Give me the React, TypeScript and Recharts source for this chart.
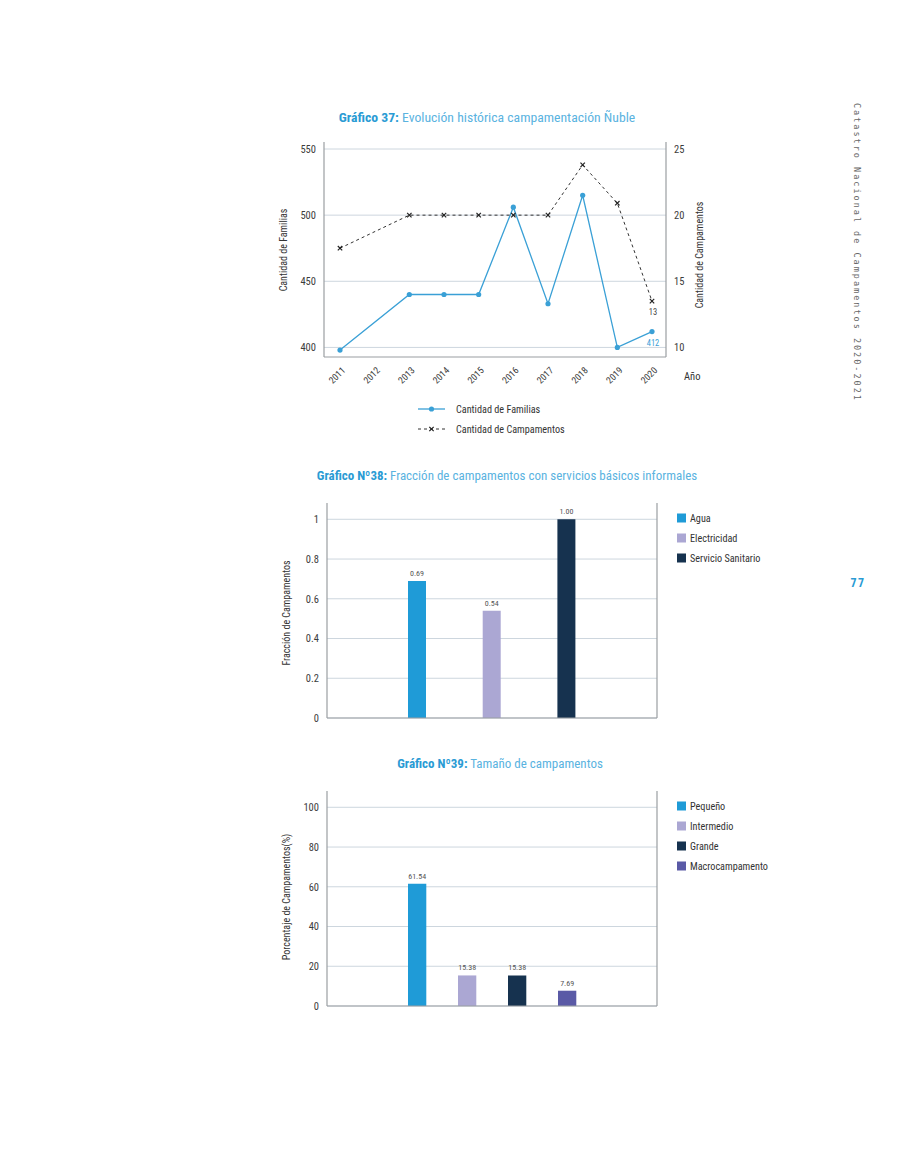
import React from 'react';
import {
  LineChart, Line, BarChart, Bar, XAxis, YAxis, CartesianGrid, LabelList,
} from 'recharts';

// ---------- data ----------
const YEARS = ['2011', '2012', '2013', '2014', '2015', '2016', '2017', '2018', '2019', '2020'];
const FAMILIAS: (number | null)[] = [398, null, 440, 440, 440, 506, 433, 515, 400, 412];
const CAMPAMENTOS: (number | null)[] = [17.5, null, 20, 20, 20, 20, 20, 23.8, 20.9, 13.5];
const FAM_TICKS = [400, 450, 500, 550];
const CAMP_TICKS = [10, 15, 20, 25];

const SERVICIOS = ['Agua', 'Electricidad', 'Servicio Sanitario'];
const FRACCION = [0.69, 0.54, 1.0];
const FRAC_TICKS = [0, 0.2, 0.4, 0.6, 0.8, 1];

const TAMANOS = ['Pequeño', 'Intermedio', 'Grande', 'Macrocampamento'];
const PORCENTAJE = [61.54, 15.38, 15.38, 7.69];
const PCT_TICKS = [0, 20, 40, 60, 80, 100];

const BAR_COLORS = ['#1f9bd7', '#aba7d3', '#16324f', '#5a5aa6'];

// ---------- styles ----------
const FONT = "'Liberation Sans Narrow', 'Roboto Condensed', Roboto, 'Noto Sans', sans-serif";
const BLUE = '#2a9bd4';
const LIGHT_BLUE = '#5ab3df';
const LINE_BLUE = '#3aa0d6';
const GRID = '#cdd6de';
const AXIS = '#9a9ea2';
const TICK = '#3c3c3c';

const lineData = YEARS.map((y, i) => ({ year: y, fam: FAMILIAS[i], camp: CAMPAMENTOS[i] }));

const servData = [SERVICIOS.reduce((o: any, _s, i) => { o['s' + i] = FRACCION[i]; return o; }, { cat: '' })];
const tamData = [TAMANOS.reduce((o: any, _s, i) => { o['t' + i] = PORCENTAJE[i]; return o; }, { cat: '' })];

const Title = ({ bold, rest, cx, cy, size = 13 }: { bold: string; rest: string; cx: number; cy: number; size?: number }) => (
  <div style={{
    position: 'absolute', left: cx, top: cy, transform: 'translate(-50%, -50%)',
    whiteSpace: 'nowrap', fontFamily: FONT, fontSize: size,
  }}>
    <span style={{ color: BLUE, fontWeight: 700 }}>{bold}</span>
    <span style={{ color: LIGHT_BLUE }}> {rest}</span>
  </div>
);

const VLabel = ({ text, cx, cy }: { text: string; cx: number; cy: number }) => (
  <div style={{
    position: 'absolute', left: cx, top: cy, transform: 'translate(-50%, -50%) rotate(-90deg)',
    whiteSpace: 'nowrap', fontFamily: FONT, fontSize: 10, color: '#333',
  }}>{text}</div>
);

const SquareLegend = ({ items, colors, x, ys }: { items: string[]; colors: string[]; x: number; ys: number[] }) => (
  <>
    {items.map((t, i) => (
      <div key={t} style={{
        position: 'absolute', left: x, top: ys[i], transform: 'translateY(-50%)',
        display: 'flex', alignItems: 'center', fontFamily: FONT, fontSize: 10.2, color: '#333', whiteSpace: 'nowrap',
      }}>
        <span style={{ display: 'inline-block', width: 9, height: 9, background: colors[i], marginRight: 4 }} />
        {t}
      </div>
    ))}
  </>
);

const YearTick = (props: any) => {
  const { x, y, payload } = props;
  return (
    <g transform={`translate(${x + 6},${y + 12}) rotate(-45)`}>
      <text x={0} y={0} textAnchor="end" fontSize={9.5} fill={TICK} fontFamily={FONT}>{payload.value}</text>
    </g>
  );
};

const CrossDot = (props: any) => {
  const { cx, cy, index } = props;
  if (cx == null || cy == null) return <g key={'c' + index} />;
  const s = 2.2;
  return (
    <g key={'c' + index} stroke="#222" strokeWidth={1.2}>
      <line x1={cx - s} y1={cy - s} x2={cx + s} y2={cy + s} />
      <line x1={cx - s} y1={cy + s} x2={cx + s} y2={cy - s} />
    </g>
  );
};

const lastLabel = (color: string) => (props: any) => {
  const { x, y, value, index } = props;
  if (index !== YEARS.length - 1 || value == null) return null;
  return (
    <text x={x + 1} y={y + 14} textAnchor="middle" fontSize={8.5} fill={color} fontFamily={FONT}>
      {Math.trunc(value)}
    </text>
  );
};

const tickStyle = { fontSize: 10.5, fill: TICK, fontFamily: FONT };

export default function App() {
  return (
    <div style={{ position: 'absolute', left: 0, top: 0, width: 900, height: 1165, background: '#fff', overflow: 'hidden' }}>
      {/* ---------- Chart 37 ---------- */}
      <Title bold="Gráfico 37:" rest="Evolución histórica campamentación Ñuble" cx={487} cy={117} size={13.7} />
      <div style={{ position: 'absolute', left: 270, top: 130 }}>
        <LineChart width={460} height={280} data={lineData} margin={{ top: 12, right: 24, left: 14, bottom: 13 }}>
          <CartesianGrid vertical={false} stroke={GRID} yAxisId="l" syncWithTicks />
          <XAxis dataKey="year" height={40} tickLine={false} tickSize={0} axisLine={{ stroke: AXIS, strokeWidth: 1.2 }}
            tick={<YearTick />} interval={0} padding={{ left: 16, right: 14 }} />
          <YAxis yAxisId="l" width={40} type="number" domain={[392.75, 555.3]} ticks={FAM_TICKS} allowDataOverflow
            tickLine={false} axisLine={{ stroke: AXIS, strokeWidth: 1.2 }} tick={tickStyle} />
          <YAxis yAxisId="r" orientation="right" width={40} type="number" domain={[9.275, 25.53]} ticks={CAMP_TICKS} allowDataOverflow
            tickLine={false} axisLine={{ stroke: AXIS, strokeWidth: 1.2 }} tick={tickStyle} />
          <Line yAxisId="l" dataKey="fam" stroke={LINE_BLUE} strokeWidth={1.3} connectNulls isAnimationActive={false}
            dot={{ r: 2.6, fill: LINE_BLUE, stroke: LINE_BLUE, strokeWidth: 0 }} activeDot={false}>
            <LabelList dataKey="fam" content={lastLabel(LINE_BLUE)} />
          </Line>
          <Line yAxisId="r" dataKey="camp" stroke="#333" strokeWidth={1} strokeDasharray="3 3" connectNulls isAnimationActive={false}
            dot={<CrossDot />} activeDot={false}>
            <LabelList dataKey="camp" content={lastLabel('#444')} />
          </Line>
        </LineChart>
      </div>
      <VLabel text="Cantidad de Familias" cx={283} cy={250} />
      <VLabel text="Cantidad de Campamentos" cx={699} cy={255} />
      <div style={{ position: 'absolute', left: 684, top: 370, fontFamily: FONT, fontSize: 10.5, color: '#333' }}>Año</div>
      {/* legend */}
      <svg style={{ position: 'absolute', left: 410, top: 400 }} width={50} height={40}>
        <line x1={8} y1={9} x2={35} y2={9} stroke={LINE_BLUE} strokeWidth={1.3} />
        <circle cx={21.5} cy={9} r={2.6} fill={LINE_BLUE} />
        <line x1={8} y1={29} x2={35} y2={29} stroke="#333" strokeWidth={1} strokeDasharray="3 3" />
        <g stroke="#222" strokeWidth={1.2}>
          <line x1={19.3} y1={26.8} x2={23.7} y2={31.2} />
          <line x1={19.3} y1={31.2} x2={23.7} y2={26.8} />
        </g>
      </svg>
      <div style={{ position: 'absolute', left: 456, top: 409, transform: 'translateY(-50%)', fontFamily: FONT, fontSize: 10.2, color: '#333', whiteSpace: 'nowrap' }}>Cantidad de Familias</div>
      <div style={{ position: 'absolute', left: 456, top: 429, transform: 'translateY(-50%)', fontFamily: FONT, fontSize: 10.2, color: '#333', whiteSpace: 'nowrap' }}>Cantidad de Campamentos</div>

      {/* ---------- Chart 38 ---------- */}
      <Title bold="Gráfico Nº38:" rest="Fracción de campamentos con servicios básicos informales" cx={507} cy={475} />
      <div style={{ position: 'absolute', left: 270, top: 495 }}>
        <BarChart width={400} height={240} data={servData} margin={{ top: 8, right: 12, left: 17, bottom: 16 }} barGap={56.7}>
          <CartesianGrid vertical={false} stroke={GRID} yAxisId="l" syncWithTicks />
          <XAxis dataKey="cat" height={1} tick={false} tickLine={false} axisLine={{ stroke: AXIS, strokeWidth: 1.2 }} />
          <YAxis yAxisId="l" width={40} type="number" domain={[0, 1.082]} ticks={FRAC_TICKS} allowDataOverflow
            tickLine={false} axisLine={{ stroke: AXIS, strokeWidth: 1.2 }} tick={tickStyle} />
          <YAxis yAxisId="r" orientation="right" width={1} type="number" domain={[0, 1.082]} tick={false}
            tickLine={false} axisLine={{ stroke: AXIS, strokeWidth: 1.2 }} />
          {SERVICIOS.map((s, i) => (
            <Bar key={s} yAxisId="l" dataKey={'s' + i} name={s} fill={BAR_COLORS[i]} barSize={18} isAnimationActive={false}>
              <LabelList dataKey={'s' + i} position="top" formatter={(v: any) => Number(v).toFixed(2)}
                style={{ fontSize: 8, fill: '#555', fontFamily: FONT }} />
            </Bar>
          ))}
        </BarChart>
      </div>
      <VLabel text="Fracción de Campamentos" cx={286} cy={613} />
      <SquareLegend items={SERVICIOS} colors={BAR_COLORS} x={677} ys={[517.5, 537.5, 557.5]} />

      {/* ---------- Chart 39 ---------- */}
      <Title bold="Gráfico Nº39:" rest="Tamaño de campamentos" cx={500} cy={763} />
      <div style={{ position: 'absolute', left: 270, top: 783 }}>
        <BarChart width={400} height={240} data={tamData} margin={{ top: 8, right: 12, left: 17, bottom: 16 }} barGap={31.7}>
          <CartesianGrid vertical={false} stroke={GRID} yAxisId="l" syncWithTicks />
          <XAxis dataKey="cat" height={1} tick={false} tickLine={false} axisLine={{ stroke: AXIS, strokeWidth: 1.2 }} />
          <YAxis yAxisId="l" width={40} type="number" domain={[0, 108.2]} ticks={PCT_TICKS} allowDataOverflow
            tickLine={false} axisLine={{ stroke: AXIS, strokeWidth: 1.2 }} tick={tickStyle} />
          <YAxis yAxisId="r" orientation="right" width={1} type="number" domain={[0, 108.2]} tick={false}
            tickLine={false} axisLine={{ stroke: AXIS, strokeWidth: 1.2 }} />
          {TAMANOS.map((s, i) => (
            <Bar key={s} yAxisId="l" dataKey={'t' + i} name={s} fill={BAR_COLORS[i]} barSize={18.3} isAnimationActive={false}>
              <LabelList dataKey={'t' + i} position="top" formatter={(v: any) => Number(v).toFixed(2)}
                style={{ fontSize: 8, fill: '#555', fontFamily: FONT }} />
            </Bar>
          ))}
        </BarChart>
      </div>
      <VLabel text="Porcentaje de Campamentos(%)" cx={286} cy={897} />
      <SquareLegend items={TAMANOS} colors={BAR_COLORS} x={677} ys={[805.7, 826, 846.3, 866.3]} />

      {/* ---------- page furniture ---------- */}
      <div style={{
        position: 'absolute', left: 852, top: 103, writingMode: 'vertical-rl', fontFamily: "'DejaVu Sans Mono', monospace",
        fontSize: 8.5, letterSpacing: 2, color: '#666', whiteSpace: 'nowrap',
      }}>Catastro Nacional de Campamentos 2020-2021</div>
      <div style={{
        position: 'absolute', left: 858, top: 583, transform: 'translate(-50%, -50%)', fontFamily: FONT,
        fontSize: 12, fontWeight: 700, color: BLUE, letterSpacing: 1.5,
      }}>77</div>
    </div>
  );
}
